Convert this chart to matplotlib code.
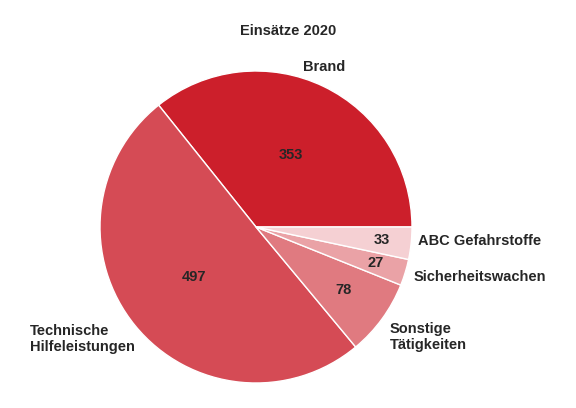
import matplotlib.pyplot as plt
import numpy as np

plt.rcParams['font.family'] = ['Liberation Sans', 'DejaVu Sans']

title = 'Einsätze 2020'
categories = ['Brand', 'Technische\nHilfeleistungen', 'Sonstige\nTätigkeiten',
              'Sicherheitswachen', 'ABC Gefahrstoffe']
values = [353, 497, 78, 27, 33]

colors = ['#cc1f2b', '#d54b55', '#e07a80', '#eaa2a6', '#f5d0d3']
# distance of the value labels from the centre (fraction of radius)
value_dist = [0.51, 0.51, 0.69, 0.80, 0.81]
# label anchors in pixel coordinates (y measured upwards) and alignment
label_pos = [(324, 341, 'center'), (30, 69, 'left'), (390, 71, 'left'),
             (414, 131, 'left'), (418, 167, 'left')]

text_color = '#262626'
center = (256, 181)
radius = 156


def main():
    fig = plt.figure(figsize=(5.76, 4.08), dpi=100)
    ax = fig.add_axes([0, 0, 1, 1])

    wedges, _ = ax.pie(values, colors=colors, startangle=0, counterclock=True,
                       center=center, radius=radius,
                       wedgeprops={'edgecolor': 'white', 'linewidth': 1})

    # pie() resets the limits, so set them afterwards
    ax.set_xlim(0, 576)
    ax.set_ylim(0, 408)
    ax.set_aspect('equal')
    ax.axis('off')

    for w, v, d in zip(wedges, values, value_dist):
        mid = np.deg2rad((w.theta1 + w.theta2) / 2)
        x = center[0] + d * radius * np.cos(mid)
        y = center[1] + d * radius * np.sin(mid)
        ax.text(x, y, str(v), ha='center', va='center', fontsize=10.5,
                fontweight='bold', color=text_color)

    for name, (x, y, ha) in zip(categories, label_pos):
        ax.text(x, y, name, ha=ha, va='center', fontsize=10.5,
                fontweight='bold', color=text_color, multialignment='left',
                linespacing=1.15)

    ax.text(288, 377, title, ha='center', va='center', fontsize=10.5,
            fontweight='bold', color=text_color)

    fig.savefig('out.png', dpi=100)


if __name__ == "__main__":
    main()
